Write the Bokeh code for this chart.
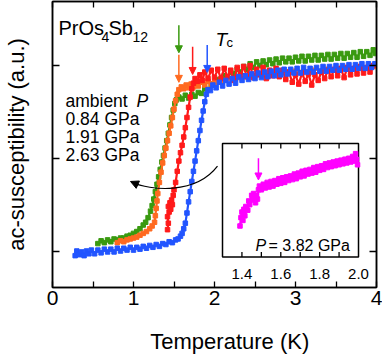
from bokeh.plotting import figure
from bokeh.models import Range1d, LinearAxis, FixedTicker, Label, Arrow, NormalHead
from bokeh.embed import file_html
from bokeh.resources import INLINE
from bokeh.core.properties import value

FONT = "Liberation Sans"

# ---------------- data ----------------
# blue curve
T_blue = [0.28, 0.30, 0.33, 0.36, 0.39, 0.42, 0.45, 0.48, 0.52, 0.56, 0.60, 0.64, 0.68, 0.72, 0.76,
          0.80, 0.84, 0.88, 0.92, 0.96, 1.00, 1.04, 1.08, 1.12, 1.16, 1.20, 1.24, 1.28, 1.32, 1.36,
          1.40, 1.44, 1.48, 1.52, 1.55, 1.58, 1.60, 1.62, 1.64, 1.66, 1.68, 1.70, 1.72, 1.74, 1.76,
          1.78, 1.80, 1.82, 1.84, 1.86, 1.88, 1.90, 1.92, 1.95, 1.98, 2.02, 2.06, 2.10, 2.14, 2.18,
          2.22, 2.26, 2.30, 2.34, 2.38, 2.42, 2.46, 2.50, 2.54, 2.58, 2.62, 2.66, 2.70, 2.74, 2.78,
          2.82, 2.86, 2.90, 2.94, 2.98, 3.02, 3.06, 3.10, 3.14, 3.18, 3.22, 3.26, 3.30, 3.34, 3.38,
          3.42, 3.46, 3.50, 3.54, 3.58, 3.62, 3.66, 3.70, 3.74, 3.78, 3.82, 3.86, 3.90, 3.94, 3.98]
chi_blue = [-0.05, 0.00, -0.04, -0.01, -0.05, 0.00, -0.03, 0.01, -0.03, 0.01, -0.02, 0.02, -0.01, 0.02, -0.01,
            0.03, 0.00, 0.03, 0.01, 0.04, 0.01, 0.04, 0.02, 0.05, 0.03, 0.06, 0.04, 0.07, 0.05, 0.08,
            0.07, 0.10, 0.09, 0.12, 0.13, 0.16, 0.19, 0.24, 0.30, 0.41, 0.53, 0.64, 0.75, 0.86, 0.97,
            1.08, 1.19, 1.30, 1.41, 1.51, 1.61, 1.69, 1.74, 1.73, 1.79, 1.76, 1.82, 1.78, 1.84, 1.80,
            1.86, 1.81, 1.88, 1.84, 1.89, 1.85, 1.91, 1.86, 1.92, 1.87, 1.93, 1.88, 1.94, 1.89, 1.95,
            1.90, 1.96, 1.91, 1.96, 1.92, 1.97, 1.92, 1.98, 1.93, 1.97, 1.93, 1.98, 1.94, 1.99, 1.94,
            1.99, 1.95, 2.00, 1.95, 2.00, 1.96, 2.01, 1.96, 2.01, 1.97, 2.02, 1.97, 2.02, 1.98, 2.02]

# green curve
T_green = [0.56, 0.60, 0.64, 0.68, 0.72, 0.76, 0.80, 0.84, 0.88, 0.92, 0.96, 1.00, 1.04, 1.08, 1.12,
           1.15, 1.18, 1.21, 1.23, 1.25, 1.27, 1.29, 1.31, 1.33, 1.35, 1.37, 1.39, 1.41, 1.43, 1.45,
           1.47, 1.49, 1.51, 1.53, 1.56, 1.60, 1.64, 1.68, 1.72, 1.76, 1.80, 1.84, 1.88, 1.92, 1.96,
           2.00, 2.04, 2.08, 2.12, 2.16, 2.20, 2.24, 2.28, 2.32, 2.36, 2.40, 2.44, 2.48, 2.52, 2.56,
           2.60, 2.64, 2.68, 2.72, 2.76, 2.80, 2.84, 2.88, 2.92, 2.96, 3.00, 3.04, 3.08, 3.12, 3.16,
           3.20, 3.24, 3.28, 3.32, 3.36, 3.40, 3.44, 3.48, 3.52, 3.56, 3.60, 3.64, 3.68, 3.72, 3.76,
           3.80, 3.84, 3.88, 3.92, 3.96, 3.99]
chi_green = [0.08, 0.11, 0.09, 0.12, 0.10, 0.13, 0.12, 0.14, 0.14, 0.16, 0.17, 0.19, 0.21, 0.24, 0.28,
             0.31, 0.36, 0.43, 0.49, 0.56, 0.64, 0.72, 0.80, 0.88, 0.96, 1.03, 1.11, 1.19, 1.27, 1.36,
             1.44, 1.52, 1.59, 1.63, 1.66, 1.64, 1.68, 1.65, 1.69, 1.67, 1.71, 1.70, 1.75, 1.74, 1.80,
             1.79, 1.85, 1.83, 1.89, 1.87, 1.93, 1.91, 1.96, 1.93, 1.99, 1.96, 2.02, 1.98, 2.04, 2.00,
             2.05, 2.01, 2.06, 2.02, 2.07, 2.03, 2.08, 2.04, 2.08, 2.04, 2.09, 2.05, 2.10, 2.05, 2.10,
             2.06, 2.11, 2.06, 2.11, 2.07, 2.12, 2.07, 2.12, 2.08, 2.13, 2.08, 2.13, 2.09, 2.14, 2.09,
             2.15, 2.10, 2.15, 2.11, 2.17, 2.13]

# orange curve
T_orange = [0.80, 0.84, 0.88, 0.92, 0.96, 1.00, 1.04, 1.08, 1.12, 1.16, 1.20, 1.23, 1.26, 1.27, 1.28,
            1.29, 1.30, 1.32, 1.34, 1.36, 1.38, 1.40, 1.42, 1.44, 1.46, 1.48, 1.50, 1.52, 1.54, 1.56,
            1.59, 1.62, 1.65, 1.68, 1.71, 1.74, 1.77, 1.80, 1.84, 1.88, 1.92, 1.96, 2.00, 2.10, 2.20,
            2.30, 2.40, 2.50, 2.60, 2.70, 2.80, 2.90, 3.00, 3.20, 3.40, 3.60, 3.80, 3.98]
chi_orange = [0.09, 0.11, 0.10, 0.12, 0.13, 0.14, 0.15, 0.17, 0.19, 0.21, 0.24, 0.27, 0.31, 0.38, 0.46,
              0.54, 0.62, 0.74, 0.85, 0.95, 1.03, 1.11, 1.19, 1.27, 1.35, 1.44, 1.53, 1.62, 1.69, 1.74,
              1.77, 1.75, 1.79, 1.76, 1.80, 1.77, 1.81, 1.78, 1.82, 1.79, 1.83, 1.80, 1.82, 1.84, 1.86,
              1.87, 1.88, 1.89, 1.90, 1.91, 1.92, 1.93, 1.94, 1.95, 1.96, 1.97, 1.98, 1.99]

# red curve
T_red = [1.42, 1.43, 1.42, 1.44, 1.43, 1.45, 1.46, 1.47, 1.48, 1.49, 1.50, 1.52, 1.54, 1.56, 1.58,
         1.60, 1.62, 1.64, 1.66, 1.68, 1.70, 1.72, 1.74, 1.76, 1.79, 1.82, 1.85, 1.88, 1.92, 1.96,
         2.00, 2.04, 2.08, 2.12, 2.16, 2.20, 2.24, 2.28, 2.32, 2.36, 2.40, 2.44, 2.48, 2.52, 2.56,
         2.60, 2.64, 2.68, 2.72, 2.76, 2.80, 2.84, 2.88, 2.92, 2.96, 3.00, 3.04, 3.08, 3.12, 3.16,
         3.20, 3.24, 3.28, 3.32, 3.36, 3.40, 3.44, 3.48, 3.52, 3.56, 3.60, 3.64, 3.68, 3.72, 3.76,
         3.80, 3.84, 3.88, 3.92, 3.96]
chi_red = [0.23, 0.30, 0.37, 0.42, 0.48, 0.52, 0.45, 0.55, 0.50, 0.60, 0.66, 0.74, 0.86, 0.97, 1.06,
           1.14, 1.23, 1.33, 1.44, 1.55, 1.66, 1.75, 1.81, 1.86, 1.83, 1.90, 1.84, 1.93, 1.86, 1.95,
           1.87, 1.96, 1.86, 1.97, 1.88, 1.95, 1.84, 1.98, 1.89, 1.99, 1.88, 2.00, 1.87, 1.96, 1.90,
           1.98, 1.86, 1.95, 1.89, 1.97, 1.88, 1.95, 1.85, 1.93, 1.82, 1.90, 1.80, 1.92, 1.83, 1.91,
           1.79, 1.90, 1.84, 1.93, 1.86, 1.95, 1.88, 1.96, 1.89, 1.97, 1.87, 1.98, 1.90, 1.97, 1.91,
           1.99, 1.92, 1.98, 1.93, 2.00]

# inset: P = 3.82 GPa (magenta)
T_mag = [1.390, 1.395, 1.400, 1.405, 1.410, 1.415, 1.420, 1.430, 1.435, 1.440, 1.450, 1.455, 1.460,
         1.470, 1.475, 1.480, 1.485, 1.490, 1.500, 1.510, 1.520, 1.530, 1.540, 1.550, 1.560, 1.570,
         1.580, 1.590, 1.600, 1.610, 1.620, 1.630, 1.640, 1.650, 1.660, 1.670, 1.680, 1.690, 1.700,
         1.710, 1.720, 1.730, 1.740, 1.750, 1.760, 1.770, 1.780, 1.790, 1.800, 1.810, 1.820, 1.830,
         1.840, 1.850, 1.860, 1.870, 1.880, 1.890, 1.900, 1.910, 1.920, 1.930, 1.940, 1.950, 1.960,
         1.970, 1.980, 1.985, 1.990, 1.995]
chi_mag = [0.27, 0.36, 0.42, 0.33, 0.45, 0.38, 0.48, 0.44, 0.54, 0.50, 0.60, 0.55, 0.62,
           0.52, 0.60, 0.56, 0.66, 0.70, 0.66, 0.72, 0.68, 0.74, 0.69, 0.75, 0.70, 0.76,
           0.72, 0.78, 0.73, 0.79, 0.74, 0.80, 0.76, 0.81, 0.77, 0.83, 0.78, 0.84, 0.80,
           0.86, 0.81, 0.87, 0.83, 0.88, 0.84, 0.90, 0.85, 0.91, 0.87, 0.92, 0.88, 0.94,
           0.90, 0.95, 0.91, 0.96, 0.92, 0.97, 0.93, 0.98, 0.94, 0.99, 0.95, 1.00, 0.96,
           1.02, 0.97, 1.05, 0.99, 0.93]

# Tc markers (K)
Tc_green = 1.56
Tc_orange = 1.56
Tc_red = 1.73
Tc_blue = 1.91
Tc_mag = 1.485

legend_lines = ["0.84 GPa", "1.91 GPa", "2.63 GPa"]
x_ticks = [0, 1, 2, 3, 4]
x_minor = [0.5, 1.5, 2.5, 3.5]
y_ticks = [0, 1, 2]
inset_label_ticks = [1.4, 1.6, 1.8, 2.0]
inset_all_ticks = [1.4, 1.5, 1.6, 1.7, 1.8, 1.9]

C_GREEN = "#3a9a10"
C_ORANGE = "#ff6a20"
C_RED = "#ff1a1a"
C_BLUE = "#2255ff"
C_MAG = "#ff00ff"

# ---------------- figure ----------------
p = figure(width=382, height=356, output_backend="svg", toolbar_location=None,
           x_range=Range1d(0, 4), y_range=Range1d(-0.3936, 2.691),
           min_border_left=52, min_border_right=6, min_border_top=1, min_border_bottom=65,
           x_axis_location=None, y_axis_location=None)
p.grid.visible = False
p.outline_line_color = "black"
p.outline_line_width = 1.5
p.background_fill_color = "white"
p.border_fill_color = "white"

p.extra_x_ranges = {"inset": Range1d(0.425, 2.0926)}


def style_axis(ax, ticks, minor, labels):
    ax.ticker = FixedTicker(ticks=ticks, minor_ticks=minor)
    ax.major_tick_in = 6
    ax.major_tick_out = 0
    ax.minor_tick_in = 6
    ax.minor_tick_out = 0
    ax.major_tick_line_color = "black"
    ax.minor_tick_line_color = "black"
    ax.major_tick_line_width = 1.3
    ax.minor_tick_line_width = 1.3
    ax.axis_line_color = "black"
    ax.axis_line_width = 1.5
    if labels:
        ax.major_label_text_font = FONT
        ax.major_label_text_font_size = "21px"
        ax.major_label_text_color = "black"
        ax.major_label_standoff = 3
    else:
        ax.major_label_text_font_size = "0px"
        ax.major_label_text_color = None
        ax.major_label_standoff = 0


def style_label(ax, standoff):
    ax.axis_label_text_font = FONT
    ax.axis_label_text_font_size = "22px"
    ax.axis_label_text_font_style = "normal"
    ax.axis_label_text_color = "black"
    ax.axis_label_standoff = standoff


# the x label sits right of the frame centre in the original: pad it on the left
xb = LinearAxis(axis_label="\u00a0" * 5 + "Temperature (K)")
style_axis(xb, x_ticks, x_minor, True)
style_label(xb, 21)
p.add_layout(xb, "below")
xt = LinearAxis()
style_axis(xt, x_ticks, x_minor, False)
p.add_layout(xt, "above")
yl = LinearAxis(axis_label="ac-susceptibility (a.u.)")
style_axis(yl, y_ticks, [], False)
yl.major_tick_in = 7
style_label(yl, 24)
p.add_layout(yl, "left")
yr = LinearAxis()
style_axis(yr, y_ticks, [], False)
yr.major_tick_in = 7
p.add_layout(yr, "right")

# ---------------- curves ----------------
for T, chi, c in [(T_green, chi_green, C_GREEN), (T_orange, chi_orange, C_ORANGE),
                  (T_red, chi_red, C_RED), (T_blue, chi_blue, C_BLUE)]:
    p.line(T, chi, line_color=c, line_width=2.2)
    p.scatter(T, chi, marker="square", size=4.5, fill_color=c, line_color=c)


# ---------------- Tc arrows ----------------
def tc_arrow(x, y0, y1, c, rng="default"):
    p.add_layout(Arrow(end=NormalHead(size=7, fill_color=c, line_color=c, line_width=1),
                       x_start=x, y_start=y0, x_end=x, y_end=y1,
                       line_color=c, line_width=1.5, x_range_name=rng))


tc_arrow(Tc_green, 2.436, 2.138, C_GREEN)
tc_arrow(Tc_orange, 2.117, 1.819, C_ORANGE)
tc_arrow(Tc_red, 2.202, 1.904, C_RED)
tc_arrow(Tc_blue, 2.223, 1.926, C_BLUE)

# ---------------- curved arrow ----------------
p.bezier(x0=[2.037], y0=[0.915], x1=[0.975], y1=[0.745],
         cx0=[1.765], cy0=[0.606], cx1=[1.210], cy1=[0.649],
         line_color="black", line_width=1.2)
p.add_layout(Arrow(end=NormalHead(size=8, fill_color="black", line_color="black", line_width=1),
                   x_start=1.062, y_start=0.712, x_end=0.963, y_end=0.750,
                   line_color="black", line_width=1.2))

# ---------------- inset ----------------
IN_B, IN_T = -0.064, 1.16
p.quad(left=[1.3], right=[2.0], bottom=[IN_B], top=[IN_T], x_range_name="inset",
       fill_color="white", line_color="black", line_width=1.5)
tick_len = 5 / 94
p.segment(x0=inset_all_ticks, x1=inset_all_ticks, y0=[IN_B] * len(inset_all_ticks),
          y1=[IN_B + tick_len] * len(inset_all_ticks), x_range_name="inset",
          line_color="black", line_width=1.3)
p.segment(x0=inset_all_ticks, x1=inset_all_ticks, y0=[IN_T] * len(inset_all_ticks),
          y1=[IN_T - tick_len] * len(inset_all_ticks), x_range_name="inset",
          line_color="black", line_width=1.3)
p.text(x=inset_label_ticks, y=[-0.245] * len(inset_label_ticks),
       text=["%.1f" % t for t in inset_label_ticks], x_range_name="inset",
       text_align="center", text_baseline="alphabetic", text_font=value(FONT),
       text_font_size="15px", text_color="black")
p.line(T_mag, chi_mag, line_color=C_MAG, line_width=2.2, x_range_name="inset")
p.scatter(T_mag, chi_mag, marker="square", size=4.5, fill_color=C_MAG, line_color=C_MAG,
          x_range_name="inset")
tc_arrow(Tc_mag, 1.0, 0.766, C_MAG, "inset")


# ---------------- texts ----------------
def lab(x, y, text, size, style="normal", align="left"):
    p.add_layout(Label(x=x, y=y, text=text, text_font=FONT, text_font_size=size,
                       text_font_style=style, text_align=align, text_baseline="alphabetic",
                       text_color="black"))


lab(0.074, 2.404, "PrOs", "20px")
lab(0.605, 2.309, "4", "14px")
lab(0.691, 2.404, "Sb", "20px")
lab(0.988, 2.309, "12", "14px")
lab(2.012, 2.277, "T", "19px", "italic")
lab(2.148, 2.245, "c", "13px")
lab(0.160, 1.617, "ambient", "17.5px")
lab(1.037, 1.617, "P", "17.5px", "italic")
for i, t in enumerate(legend_lines):
    lab(0.160, [1.426, 1.234, 1.032][i], t, "17.5px")
lab(2.506, 0.064, "P", "16px", "italic")
lab(2.667, 0.064, "= 3.82 GPa", "16px")

open("out.html", "w").write(file_html(p, INLINE))
